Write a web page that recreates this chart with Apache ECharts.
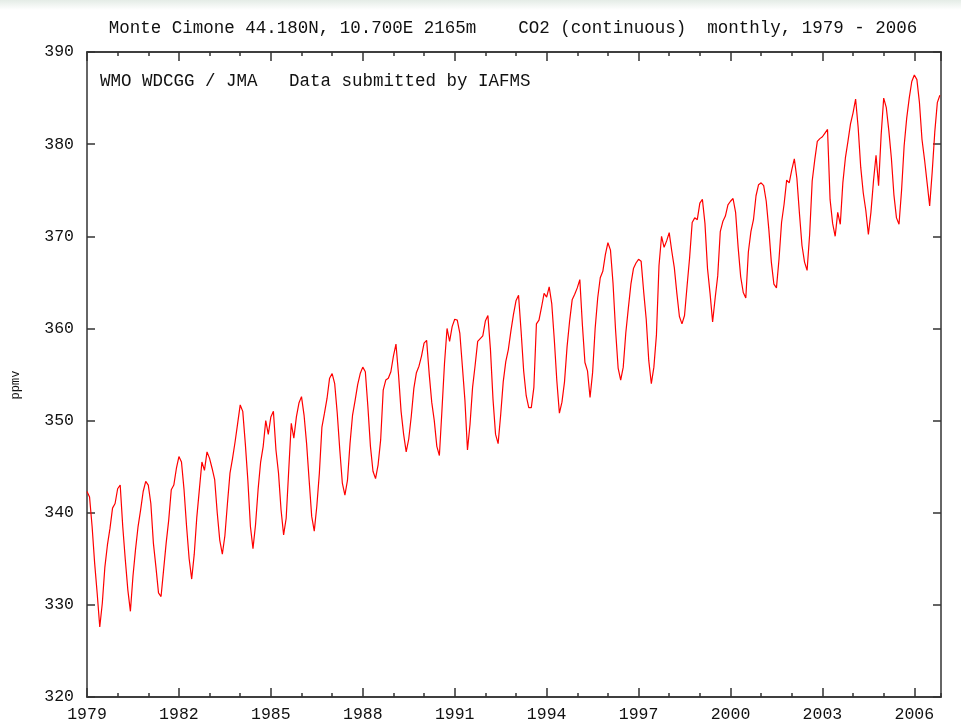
<!DOCTYPE html>
<html>
<head>
<meta charset="utf-8">
<script src="https://cdn.jsdelivr.net/npm/echarts@6/dist/echarts.min.js"></script>
<style>
html, body { margin: 0; padding: 0; background: #fff; }
#main { width: 961px; height: 724px; }
</style>
</head>
<body>
<div id="main"></div>
<script>
// monthly CO2 (ppmv), Jan 1979 .. Nov 2006
var startYear = 1979;
var ppmv = [
  342.3, 341.7, 338.5, 334.5, 331.2, 327.6, 330.2, 334.1, 336.5, 338.3, 340.5, 341.0, // 1979
  342.6, 343.0, 338.5, 334.9, 331.6, 329.3, 333.1, 336.0, 338.5, 340.3, 342.3, 343.4, // 1980
  343.0, 341.0, 336.7, 334.1, 331.3, 330.9, 333.8, 336.7, 339.2, 342.5, 343.0, 344.8, // 1981
  346.1, 345.5, 342.5, 338.5, 335.0, 332.8, 335.5, 339.5, 342.5, 345.5, 344.6, 346.6, // 1982
  345.9, 344.8, 343.6, 340.0, 337.0, 335.5, 337.5, 341.0, 344.3, 345.9, 347.7, 349.7, // 1983
  351.7, 351.0, 347.5, 343.5, 338.5, 336.1, 338.7, 342.5, 345.5, 347.2, 350.0, 348.5, // 1984
  350.4, 351.0, 346.8, 344.3, 340.3, 337.6, 339.4, 344.6, 349.7, 348.1, 350.4, 351.9, // 1985
  352.6, 350.6, 347.5, 343.5, 339.6, 338.0, 340.7, 344.3, 349.3, 350.8, 352.4, 354.6, // 1986
  355.1, 354.0, 350.8, 346.8, 343.2, 341.9, 343.5, 347.5, 350.6, 352.2, 353.9, 355.1, // 1987
  355.8, 355.3, 351.5, 347.2, 344.5, 343.7, 345.2, 347.9, 353.3, 354.4, 354.6, 355.3, // 1988
  357.0, 358.3, 355.0, 351.0, 348.5, 346.6, 348.0, 350.5, 353.5, 355.2, 355.9, 357.0, // 1989
  358.4, 358.7, 355.1, 352.0, 350.0, 347.2, 346.2, 351.1, 356.2, 360.0, 358.6, 360.2, // 1990
  361.0, 360.9, 359.5, 355.9, 352.2, 346.8, 349.6, 353.6, 356.0, 358.6, 358.9, 359.2, // 1991
  360.8, 361.4, 357.7, 352.3, 348.5, 347.5, 350.6, 354.2, 356.4, 357.7, 359.7, 361.5, // 1992
  363.0, 363.6, 359.7, 355.4, 352.7, 351.4, 351.4, 353.6, 360.5, 360.9, 362.3, 363.8, // 1993
  363.4, 364.5, 362.7, 358.8, 354.3, 350.8, 352.0, 354.2, 358.0, 360.8, 363.1, 363.7, // 1994
  364.4, 365.3, 360.4, 356.3, 355.4, 352.5, 355.2, 360.0, 363.3, 365.5, 366.2, 368.0, // 1995
  369.3, 368.5, 364.9, 359.8, 355.7, 354.4, 355.8, 359.5, 362.2, 364.8, 366.5, 367.1, // 1996
  367.5, 367.3, 364.0, 361.0, 356.5, 354.0, 355.8, 359.3, 366.8, 370.0, 368.8, 369.5, // 1997
  370.4, 368.4, 366.6, 363.8, 361.3, 360.5, 361.4, 364.6, 367.7, 371.5, 372.0, 371.8, // 1998
  373.6, 374.0, 371.4, 366.5, 363.8, 360.7, 363.3, 365.7, 370.5, 371.6, 372.2, 373.4, // 1999
  373.8, 374.1, 372.6, 368.8, 365.6, 363.9, 363.3, 368.3, 370.5, 371.8, 374.4, 375.6, // 2000
  375.8, 375.5, 373.8, 370.8, 367.2, 364.8, 364.4, 367.5, 371.5, 373.5, 376.1, 375.8, // 2001
  377.2, 378.4, 376.3, 372.5, 369.0, 367.2, 366.3, 370.2, 376.0, 378.3, 380.3, 380.6, // 2002
  380.8, 381.2, 381.6, 374.0, 371.4, 370.0, 372.6, 371.3, 375.8, 378.5, 380.3, 382.2, // 2003
  383.4, 384.9, 381.8, 377.5, 374.7, 372.8, 370.2, 372.6, 376.0, 378.8, 375.5, 381.0, // 2004
  385.0, 384.0, 381.5, 378.5, 374.5, 372.0, 371.3, 375.0, 379.8, 382.8, 385.0, 386.8, // 2005
  387.5, 387.0, 384.5, 380.5, 378.3, 375.8, 373.3, 377.0, 381.3, 384.5, 385.3          // 2006
];
var yTicks = [320, 330, 340, 350, 360, 370, 380, 390];
var titleText = 'Monte Cimone 44.180N, 10.700E 2165m    CO2 (continuous)  monthly, 1979 - 2006';
var noteText = 'WMO WDCGG / JMA   Data submitted by IAFMS';
var unitText = 'ppmv';

var points = ppmv.map(function (v, i) { return [startYear + i / 12, v]; });

var FONT = 'Liberation Mono';
var AXIS = '#333';
var xMin = 1979, xMax = 2006.87;

function xAx(pos, step, len, labels) {
  return {
    type: 'value', position: pos, min: xMin, max: xMax, interval: step,
    axisLine: { show: true, onZero: false, lineStyle: { color: AXIS, width: 1.5 } },
    axisTick: { show: true, inside: true, length: len, lineStyle: { color: AXIS, width: 1.5 } },
    axisLabel: {
      show: labels, margin: 9, showMaxLabel: false,
      fontFamily: FONT, fontSize: 16.5, color: '#111',
      formatter: function (v) { return Number.isInteger(v) ? String(v) : ''; }
    },
    splitLine: { show: false }
  };
}

function yAx(pos, labels) {
  return {
    type: 'value', position: pos, min: yTicks[0], max: yTicks[yTicks.length - 1],
    interval: yTicks[1] - yTicks[0],
    axisLine: { show: true, onZero: false, lineStyle: { color: AXIS, width: 1.5 } },
    axisTick: { show: true, inside: true, length: 8, lineStyle: { color: AXIS, width: 1.5 } },
    axisLabel: { show: labels, margin: 13, fontFamily: FONT, fontSize: 16.5, color: '#111' },
    splitLine: { show: false }
  };
}

var chart = echarts.init(document.getElementById('main'));
chart.setOption({
  animation: false,
  backgroundColor: '#fff',
  grid: { left: 87, right: 20, top: 52, bottom: 27 },
  xAxis: [
    xAx('bottom', 3, 9, true),
    xAx('bottom', 1, 4, false),
    xAx('top', 3, 9, false),
    xAx('top', 1, 4, false)
  ],
  yAxis: [yAx('left', true), yAx('right', false)],
  series: [{
    type: 'line',
    data: points,
    xAxisIndex: 0,
    yAxisIndex: 0,
    showSymbol: false,
    lineStyle: { color: '#ff0000', width: 1.2 }
  }],
  graphic: [
    {
      type: 'rect', z: -1,
      shape: { x: 0, y: 0, width: 961, height: 10 },
      style: { fill: new echarts.graphic.LinearGradient(0, 0, 0, 1, [
        { offset: 0, color: '#e4ece6' }, { offset: 1, color: '#ffffff' }
      ]) }
    },
    {
      type: 'text', x: 513, y: 28,
      style: { text: titleText, font: '17.5px "Liberation Mono"', fill: '#111',
        textAlign: 'center', textVerticalAlign: 'middle' }
    },
    {
      type: 'text', x: 100, y: 81,
      style: { text: noteText, font: '17.5px "Liberation Mono"', fill: '#111',
        textAlign: 'left', textVerticalAlign: 'middle' }
    },
    {
      type: 'text', x: 16, y: 385, rotation: Math.PI / 2,
      style: { text: unitText, font: '12px "Liberation Mono"', fill: '#111',
        textAlign: 'center', textVerticalAlign: 'middle' }
    }
  ]
});
</script>
</body>
</html>
